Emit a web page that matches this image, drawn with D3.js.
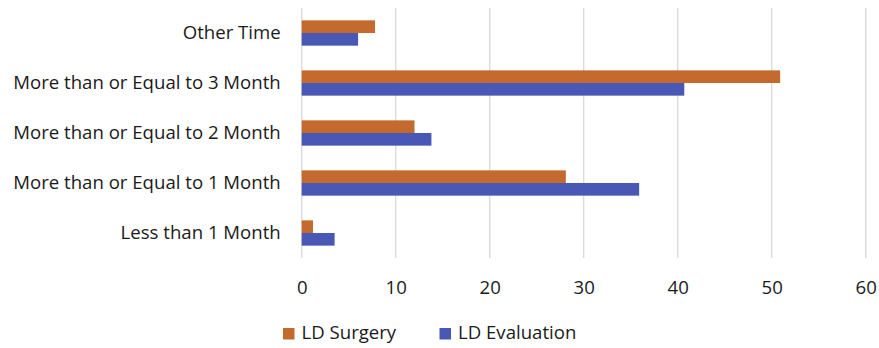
<!DOCTYPE html>
<html>
<head>
<meta charset="utf-8">
<script src="https://cdn.jsdelivr.net/npm/d3@7"></script>
<style>
  body { margin: 0; background: #fff; }
  svg { display: block; font-family: "Open Sans", "Noto Sans", sans-serif; }
</style>
</head>
<body>
<svg id="chart" width="879" height="348"></svg>
<script>
// Categories listed top to bottom
const categories = [
  "Other Time",
  "More than or Equal to 3 Month",
  "More than or Equal to 2 Month",
  "More than or Equal to 1 Month",
  "Less than 1 Month"
];
const seriesNames = ["LD Surgery", "LD Evaluation"];
const surgery    = [7.8, 50.9, 12.0, 28.1, 1.2];
const evaluation = [6.0, 40.7, 13.8, 35.9, 3.5];
const xTicks = [0, 10, 20, 30, 40, 50, 60];
const colors = ["#C46A2F", "#4957B5"];

const svg = d3.select("#chart");
const margin = { left: 301.7, right: 13.3, top: 8, bottom: 90 };
const W = 879, H = 348;
const fontSize = 18.6;

const x = d3.scaleLinear().domain([0, 60]).range([margin.left, W - margin.right]);
const y = d3.scaleBand().domain(categories).range([margin.top, H - margin.bottom])
  .paddingInner(0.494).paddingOuter(0.247);
const sub = d3.scaleBand().domain(seriesNames).range([0, y.bandwidth()]);

// vertical gridlines
svg.append("g").selectAll("line").data(xTicks).join("line")
  .attr("x1", d => x(d)).attr("x2", d => x(d))
  .attr("y1", margin.top).attr("y2", H - margin.bottom)
  .attr("stroke", "#d9d9d9").attr("stroke-width", 1.3);

const rows = categories.map((c, i) => ({ c, vals: [surgery[i], evaluation[i]] }));
svg.append("g").selectAll("g").data(rows).join("g")
  .attr("transform", d => `translate(0,${y(d.c)})`)
  .selectAll("rect").data(d => d.vals.map((v, j) => ({ v, s: seriesNames[j], j })))
  .join("rect")
  .attr("x", x(0))
  .attr("y", d => sub(d.s))
  .attr("width", d => x(d.v) - x(0))
  .attr("height", sub.bandwidth())
  .attr("fill", d => colors[d.j]);

// x axis labels
const xAxis = d3.axisBottom(x).tickValues(xTicks).tickSize(0).tickPadding(0);
const gx = svg.append("g").attr("transform", `translate(0,${H - margin.bottom})`).call(xAxis);
gx.select(".domain").remove();
gx.selectAll("text").attr("font-family", "Open Sans, sans-serif").attr("font-size", fontSize)
  .attr("fill", "#1a1a1a").attr("y", 36).attr("dy", 0);

// category labels
const yAxis = d3.axisLeft(y).tickSize(0).tickPadding(21);
const gy = svg.append("g").attr("transform", `translate(${margin.left},0)`).call(yAxis);
gy.select(".domain").remove();
gy.selectAll("text").attr("font-family", "Open Sans, sans-serif").attr("font-size", fontSize)
  .attr("fill", "#1a1a1a");

// legend
const legendX = [283, 439.5];
const lg = svg.append("g").selectAll("g").data(seriesNames).join("g")
  .attr("transform", (d, i) => `translate(${legendX[i]},328)`);
lg.append("rect").attr("width", 11.5).attr("height", 11.5).attr("fill", (d, i) => colors[i]);
lg.append("text").attr("x", 18.5).attr("y", 11.3).attr("font-size", fontSize).attr("fill", "#1a1a1a")
  .attr("font-family", "Open Sans, sans-serif").text(d => d);
</script>
</body>
</html>
